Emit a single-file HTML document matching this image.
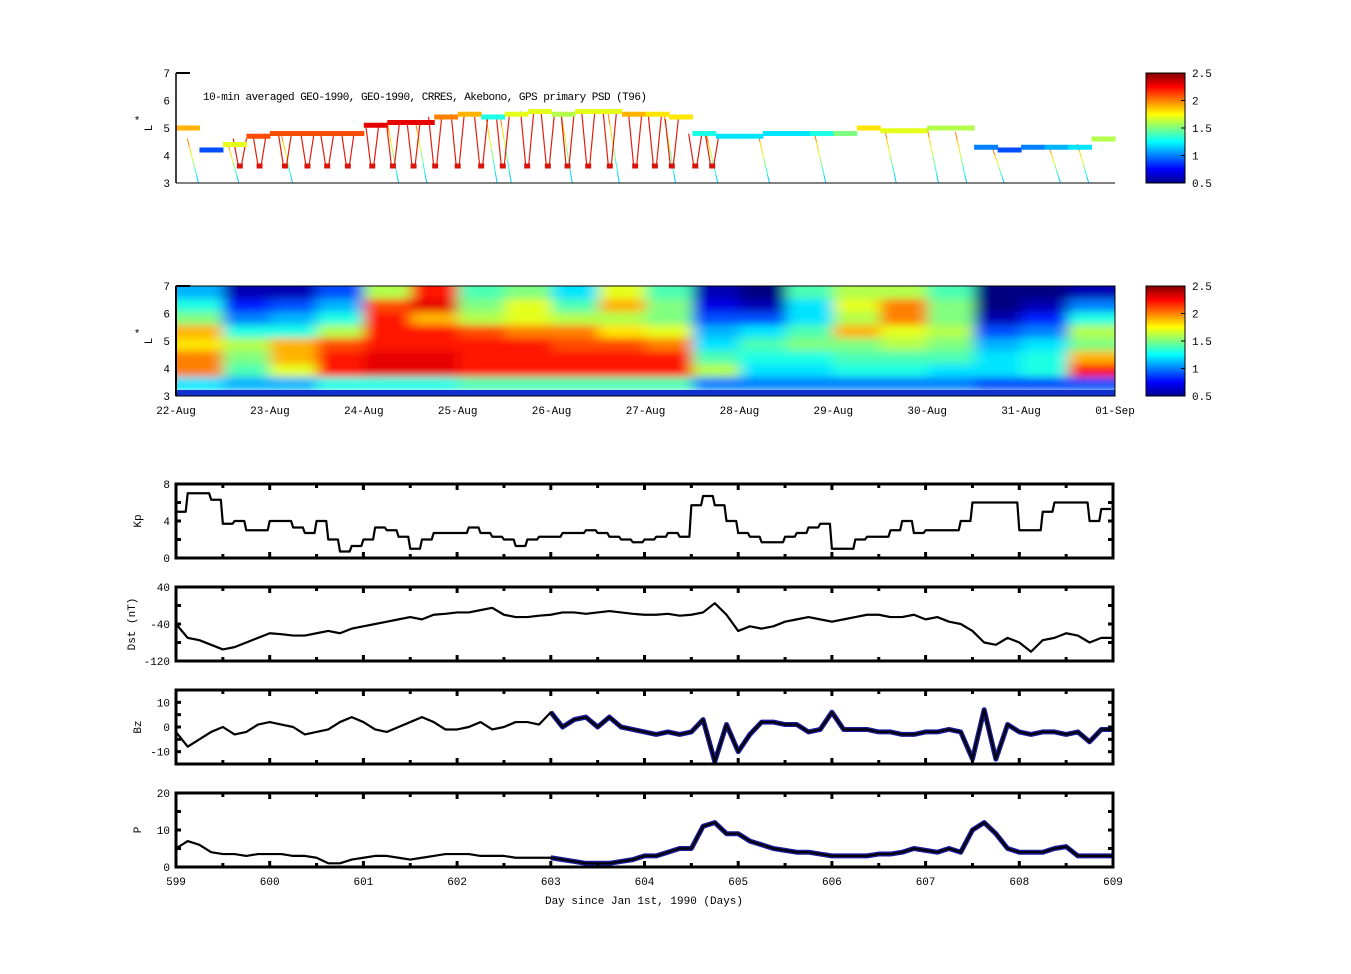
<!DOCTYPE html>
<html><head><meta charset="utf-8"><style>
body{margin:0;background:#fff;}
svg{display:block;font-family:"Liberation Mono","DejaVu Sans Mono",monospace;}
text{font-size:11px;fill:#000;}
</style></head><body>
<svg id="fig" width="1351" height="974" viewBox="0 0 1351 974" xmlns="http://www.w3.org/2000/svg">
<defs>
<linearGradient id="jetv" x1="0" y1="1" x2="0" y2="0">
<stop offset="0" stop-color="#00008f"/><stop offset="0.125" stop-color="#0000ff"/><stop offset="0.375" stop-color="#00ffff"/><stop offset="0.625" stop-color="#ffff00"/><stop offset="0.875" stop-color="#ff0000"/><stop offset="1" stop-color="#800000"/>
</linearGradient>
<clipPath id="clip2"><rect x="176" y="286" width="939" height="110"/></clipPath>
<filter id="blur2" filterUnits="userSpaceOnUse" x="150" y="260" width="1000" height="160"><feGaussianBlur stdDeviation="7 4"/></filter>
</defs>
<g id="layer"></g>
</svg>
<script>
// ---------- Panel 1 data (days since 22-Aug) ----------
const trackDays=[0,0.25,0.5,0.75,1,1.25,1.5,1.75,2,2.25,2.5,2.75,3,3.25,3.5,3.75,4,4.25,4.5,4.75,5,5.25,5.5,5.75,6,6.25,6.5,6.75,7,7.25,7.5,7.75,8,8.25,8.5,8.75,9,9.25,9.5,9.75,10];
const trackL=[5.0,4.2,4.4,4.7,4.8,4.8,4.8,4.8,5.1,5.2,5.2,5.4,5.5,5.4,5.5,5.6,5.5,5.6,5.6,5.5,5.5,5.4,4.8,4.7,4.7,4.8,4.8,4.8,4.8,5.0,4.9,4.9,5.0,5.0,4.3,4.2,4.3,4.3,4.3,4.6,4.6];
const trackPSD=[1.9,0.9,1.7,2.1,2.1,2.1,2.1,2.1,2.3,2.3,2.3,2.0,1.9,1.3,1.7,1.7,1.6,1.7,1.7,1.9,1.8,1.8,1.3,1.2,1.2,1.2,1.2,1.3,1.5,1.8,1.7,1.7,1.6,1.6,1.0,0.9,1.0,1.1,1.2,1.6,1.8];
const dipDays=[0.68,0.89,1.16,1.40,1.61,1.83,2.09,2.31,2.53,2.76,3.00,3.25,3.48,3.74,3.96,4.17,4.39,4.62,4.89,5.10,5.28,5.53,5.71];
const dipMinL=[3.6,3.6,3.6,3.6,3.6,3.6,3.6,3.6,3.6,3.6,3.6,3.6,3.6,3.6,3.6,3.6,3.6,3.6,3.6,3.6,3.6,3.6,3.6];
const fallDays=[0.12,0.55,1.12,2.25,2.55,3.3,3.45,4.1,4.6,5.2,5.65,6.2,6.8,7.55,8.0,8.3,8.7,9.3,9.6];
// ---------- Panel 2 data (half-day columns, rows L 7 -> 3) ----------
const gridCols=[
[1.1,1.3,1.5,1.9,1.8,2.0,2.0,1.2],[0.6,0.8,1.0,1.3,1.6,1.5,1.4,1.1],[0.6,0.9,1.1,1.3,1.9,1.9,1.7,1.1],[0.9,1.1,1.3,1.6,2.1,2.2,2.2,1.3],
[1.6,2.1,2.2,2.2,2.2,2.3,2.3,1.3],[2.2,2.3,1.9,2.2,2.2,2.3,2.3,1.3],[1.4,1.5,1.6,2.1,2.2,2.2,2.2,1.4],[1.5,1.7,1.7,2.0,2.2,2.2,2.2,1.4],
[1.2,1.4,1.6,2.0,2.1,2.2,2.2,1.4],[1.7,1.9,1.6,1.8,2.1,2.2,2.2,1.4],[1.4,1.5,1.5,1.7,2.0,2.2,2.2,1.4],[0.6,0.7,0.9,1.1,1.2,1.4,1.6,1.0],
[0.5,0.6,0.9,1.2,1.4,1.3,1.2,1.0],[1.4,1.2,1.2,1.4,1.5,1.3,1.2,1.0],[1.6,1.7,1.6,1.9,1.5,1.4,1.3,1.0],[1.6,2.0,2.0,1.7,1.6,1.4,1.3,1.0],
[1.4,1.5,1.5,1.6,1.5,1.4,1.2,1.0],[0.5,0.5,0.6,0.9,1.1,1.2,1.2,0.9],[0.5,0.6,0.8,1.0,1.2,1.3,1.3,0.9],[0.6,1.0,1.3,1.6,1.5,1.9,2.2,0.9]];
const dateLabels=["22-Aug","23-Aug","24-Aug","25-Aug","26-Aug","27-Aug","28-Aug","29-Aug","30-Aug","31-Aug","01-Sep"];
const cbTicks=["0.5","1","1.5","2","2.5"];
// ---------- lower panels (3-hour steps from day 599) ----------
const kpVals=[5,7,7,6.3,3.7,4,3,3, 4,4,3.3,2.7,4,2,0.7,1.3, 2,3.3,3,2.3,1,2,2.7,2.7, 2.7,3.3,2.7,2.3,2,1.3,2,2.3, 2.3,2.7,2.7,3,2.7,2.3,2,1.7, 2,2.3,2.7,2.3,5.7,6.7,5.7,4, 2.7,2.3,1.7,1.7,2.3,2.7,3.3,3.7, 1,1,2,2.3,2.3,3,4,2.7, 3,3,3,4,6,6,6,6, 3,3,5,6,6,6,4,5.3];
const dstVals=[-40,-70,-75,-85,-95,-90,-80,-70, -60,-62,-65,-65,-60,-55,-60,-50, -45,-40,-35,-30,-25,-30,-20,-18, -15,-15,-10,-5,-20,-25,-25,-22, -20,-15,-15,-18,-15,-12,-15,-18, -20,-20,-18,-22,-20,-15,5,-20, -55,-45,-50,-45,-35,-30,-25,-30, -35,-30,-25,-20,-20,-25,-25,-20, -30,-25,-35,-40,-55,-80,-85,-70, -80,-100,-75,-70,-60,-65,-80,-70,-70];
const bzVals=[-2,-8,-5,-2,0,-3,-2,1, 2,1,0,-3,-2,-1,2,4, 2,-1,-2,0,2,4,2,-1, -1,0,2,-1,0,2,2,1, 6,0,3,4,0,4,0,-1, -2,-3,-2,-3,-2,3,-14,1, -10,-3,2,2,1,1,-2,-1, 6,-1,-1,-1,-2,-2,-3,-3, -2,-2,-1,-2,-13,7,-13,1, -2,-3,-2,-2,-3,-2,-6,-1,-1];
const pVals=[5,7,6,4,3.5,3.5,3,3.5, 3.5,3.5,3,3,2.5,1,1,2, 2.5,3,3,2.5,2,2.5,3,3.5, 3.5,3.5,3,3,3,2.5,2.5,2.5, 2.5,2,1.5,1,1,1,1.5,2, 3,3,4,5,5,11,12,9, 9,7,6,5,4.5,4,4,3.5, 3,3,3,3,3.5,3.5,4,5, 4.5,4,5,4,10,12,9,5, 4,4,4,5,5.5,3,3,3,3];
const dayTicks=["599","600","601","602","603","604","605","606","607","608","609"];

const NS="http://www.w3.org/2000/svg";
const layer=document.getElementById('layer');
function mk(tag,attrs,parent){const e=document.createElementNS(NS,tag);for(const k in attrs)e.setAttribute(k,attrs[k]);(parent||layer).appendChild(e);return e;}
function txt(x,y,s,anchor,extra){const t=mk('text',Object.assign({x:x,y:y,'text-anchor':anchor||'start'},extra||{}));t.textContent=s;return t;}
function jet(v){let t=(v-0.5)/2;t=Math.max(0,Math.min(1,t));const c=x=>Math.round(255*Math.max(0,Math.min(1,1.5-Math.abs(4*t-x))));return `rgb(${c(3)},${c(2)},${c(1)})`;}

// ---- Panel 1 ----
const p1={x0:176,x1:1115,y0:73,y1:183};
const x1f=d=>p1.x0+d/10*(p1.x1-p1.x0);
const y1f=L=>p1.y1-(L-3)/4*(p1.y1-p1.y0);
const g1=mk('g',{});


function trackAt(d){let i=Math.min(trackDays.length-2,Math.floor(d/0.25));const f=(d-trackDays[i])/0.25;return trackL[i]+(trackL[i+1]-trackL[i])*f;}
fallDays.forEach((d,i)=>{const L=trackAt(d);const steps=6;for(let k=0;k<steps;k++){const la=L-(L-3)*k/steps,lb=L-(L-3)*(k+1)/steps;const l=mk('line',{x1:x1f(d+0.12*k/steps),y1:y1f(la),x2:x1f(d+0.12*(k+1)/steps),y2:y1f(lb),stroke:jet(2.0-1.0*k/steps),'stroke-width':1},g1);

}});
dipDays.forEach((d,i)=>{const L=trackAt(d);const pts=[[d-0.07,L],[d-0.015,dipMinL[i]],[d+0.015,dipMinL[i]],[d+0.07,L]];
const pl=mk('polyline',{points:pts.map(p=>x1f(p[0])+','+y1f(p[1])).join(' '),fill:'none',stroke:'#e0200f','stroke-width':1.2},g1);


const r=mk('rect',{x:x1f(d)-3,y:y1f(dipMinL[i])-3,width:6,height:5,fill:'#d8150c'},g1);

});
for(let i=0;i<trackDays.length-1;i++){const r=mk('rect',{x:x1f(trackDays[i]),y:y1f(trackL[i])-2.5,width:x1f(trackDays[i+1])-x1f(trackDays[i])+0.5,height:5,fill:jet(trackPSD[i])},g1);

}
mk('line',{x1:176,y1:73,x2:176,y2:183,stroke:'#000','stroke-width':1.5});
mk('line',{x1:176,y1:183,x2:1115,y2:183,stroke:'#000','stroke-width':1});
mk('line',{x1:176,y1:73,x2:190,y2:73,stroke:'#000','stroke-width':2});
[3,4,5,6,7].forEach(v=>{const t=txt(170,y1f(v)+4,String(v),'end');});
const ttl=txt(203,100,"10-min averaged GEO-1990, GEO-1990, CRRES, Akebono, GPS  primary PSD (T96)",'start',{textLength:444});


function lLabel(yc){const a=txt(137,yc-4,"*",'middle');
const b=txt(0,0,"L",'middle',{transform:`translate(152,${yc}) rotate(-90)`});}
lLabel(128);

// ---- Colorbars ----
function colorbar(y0,y1,name){const r=mk('rect',{x:1146,y:y0,width:39,height:y1-y0,fill:'url(#jetv)',stroke:'#000','stroke-width':1});


cbTicks.forEach((s,i)=>{const y=y1-i*(y1-y0)/4;mk('line',{x1:1181,y1:y,x2:1185,y2:y,stroke:'#000'});const t=txt(1192,y+4,s);});}
colorbar(73,183,'colorbar-top');
colorbar(286,396,'colorbar-bottom');

// ---- Panel 2 ----
const p2={x0:176,x1:1115,y0:286,y1:396};
const x2f=d=>p2.x0+d/10*(p2.x1-p2.x0);
const rowH=(p2.y1-p2.y0-6)/8;
const g2=mk('g',{'clip-path':'url(#clip2)'});


const g2b=mk('g',{filter:'url(#blur2)'},g2);
gridCols.forEach((col,ci)=>{col.forEach((v,ri)=>{const x=ci==0?x2f(0)-20:x2f(ci*0.5);const w=(p2.x1-p2.x0)/20+(ci==0||ci==19?20:0);
const r=mk('rect',{x:x,y:ri==0?p2.y0-20:p2.y0+ri*rowH,width:w+0.5,height:rowH+(ri==0?20:0)+0.5,fill:jet(v)},g2b);

});});
const strip=mk('rect',{x:176,y:390,width:939,height:6,fill:'#1030d0'},g2);


mk('rect',{x:176,y:286,width:939,height:110,fill:'none',stroke:'#000','stroke-width':1});
mk('line',{x1:176,y1:286,x2:190,y2:286,stroke:'#000','stroke-width':2});
mk('line',{x1:176,y1:286,x2:176,y2:396,stroke:'#000','stroke-width':2});
[3,4,5,6,7].forEach(v=>{const t=txt(170,p2.y1-(v-3)/4*110+4,String(v),'end');});
lLabel(341);
dateLabels.forEach((s,i)=>{const t=txt(x2f(i),414,s,'middle');});

// ---- Lower panels ----
const X0=176,X1=1113;
const xd=d=>X0+(d-599)/10*(X1-X0);
function panel(y0,y1,ymin,ymax,ticks,vals,label,name,blueFrom,labelX,step){
 const yf=v=>y1-(v-ymin)/(ymax-ymin)*(y1-y0);
 const g=mk('g',{});
 
 
 let pts=vals.map((v,i)=>[xd(599+i*0.125),yf(Math.max(ymin,Math.min(ymax,v)))]);
 if(step){const sp=[];pts.forEach((p,i)=>{const xe=Math.min(X1,xd(599+(i+1)*0.125));sp.push([p[0],p[1]]);sp.push([xe-2,p[1]]);});pts=sp;}
 if(blueFrom!==null){const bp=pts.filter(p=>p[0]>=xd(blueFrom));
  const b=mk('polyline',{points:bp.map(p=>p.join(',')).join(' '),fill:'none',stroke:'#1a1a9a','stroke-width':5,'stroke-linejoin':'round'},g);
  
  }
 const l=mk('polyline',{points:pts.map(p=>p.join(',')).join(' '),fill:'none',stroke:'#000','stroke-width':2.2,'stroke-linejoin':'round'},g);
 
 
 for(let k=0;k<=20;k++){const x=xd(599+k*0.5);const len=k%2==0?6:4;mk('line',{x1:x,y1:y0,x2:x,y2:y0+len,stroke:'#000','stroke-width':3},g);mk('line',{x1:x,y1:y1,x2:x,y2:y1-len,stroke:'#000','stroke-width':3},g);}
 const mids=[];for(let i=0;i<ticks.length-1;i++)mids.push((ticks[i]+ticks[i+1])/2);
 ticks.concat(mids).forEach(v=>{const y=yf(v);mk('line',{x1:X0,y1:y,x2:X0+5,y2:y,stroke:'#000','stroke-width':3},g);mk('line',{x1:X1,y1:y,x2:X1-5,y2:y,stroke:'#000','stroke-width':3},g);});
 ticks.forEach(v=>{const t=txt(170,yf(v)+4,String(v),'end');});
 const f=mk('rect',{x:X0,y:y0,width:X1-X0,height:y1-y0,fill:'none',stroke:'#000','stroke-width':3},g);
 
 
 const yt=txt(0,0,label==='dst'?'Dst (nT)':label==='kp'?'Kp':label==='bz'?'Bz':'P','middle',{transform:`translate(${labelX},${(y0+y1)/2}) rotate(-90)`});
 
 
}
panel(484,558,0,8,[0,4,8],kpVals,'kp','kp-panel',null,141,true);
panel(587,661,-120,40,[-120,-40,40],dstVals,'dst','dst-panel',null,135,false);
panel(690,764,-15,15,[-10,0,10],bzVals,'bz','bz-panel',603,141,false);
panel(793,867,0,20,[0,10,20],pVals,'p','p-panel',603,141,false);
dayTicks.forEach((s,i)=>{const t=txt(xd(599+i),885,s,'middle');});
const xt=txt(644,904,"Day since Jan 1st, 1990 (Days)",'middle');


</script>
</body></html>
